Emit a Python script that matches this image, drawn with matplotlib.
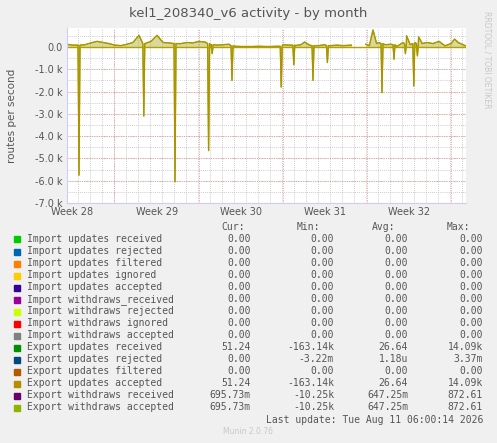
import numpy as np
import matplotlib
matplotlib.use("Agg")
import matplotlib.pyplot as plt
from matplotlib.ticker import FuncFormatter

# ---- data (values in routes/s, x in days from start of plot) ----
base_days_a = [0,0.5,1.5,2,2.5,3,3.5,4,4.5,5,5.5,6,6.5,7,7.5,8,8.5,9.5,10,10.5,11,11.5,12,12.5,13,13.5,14,14.5,15,15.5,16,16.5,17,17.5,18,18.5,19,19.5,19.8,20.2,21,21.5,22,22.5,23,23.7]
base_vals_a = [120,80,100,180,250,200,150,80,60,120,200,520,150,250,520,200,180,150,200,180,250,220,60,80,100,120,30,20,20,20,30,20,20,30,100,80,60,100,220,80,60,100,60,80,60,80]
base_days_b = [24.9,25.2,25.5,25.8,26,26.5,27,27.5,28,28.3,28.6,29,29.3,29.6,30,30.5,31,31.5,32,32.3,32.6,33.2]
base_vals_b = [120,60,760,150,200,100,120,20,200,500,100,200,450,150,200,150,250,50,150,350,200,50]
spike_days = [1.0,6.4,9.0,11.8,12.1,13.75,17.85,18.9,20.5,21.7,26.25,27.25,28.2,28.9,29.2]
spike_vals = [-5750,-3100,-6050,-4650,-300,-1500,-1800,-800,-1500,-700,-2050,-550,-300,-1750,-400]
spike_edge_vals = [80,150,150,150,100,50,30,80,60,60,150,100,150,150,150]
week_labels = ["Week 28","Week 29","Week 30","Week 31","Week 32"]
week_label_days = [0.42,7.5,14.5,21.5,28.5]
week_major_days = [3.9,11,18,25,32]

legend_names = ["Import updates received","Import updates rejected","Import updates filtered",
    "Import updates ignored","Import updates accepted","Import withdraws_received",
    "Import withdraws rejected","Import withdraws ignored","Import withdraws accepted",
    "Export updates received","Export updates rejected","Export updates filtered",
    "Export updates accepted","Export withdraws received","Export withdraws accepted"]
legend_colors = ["#00cc00","#0066b3","#ff8000","#ffcc00","#330099","#990099","#ccff00",
    "#ff0000","#808080","#008f00","#00487d","#b35a00","#b38f00","#6b006b","#8fb300"]
cur = ["0.00"]*9 + ["51.24","0.00","0.00","51.24","695.73m","695.73m"]
mn = ["0.00"]*9 + ["-163.14k","-3.22m","0.00","-163.14k","-10.25k","-10.25k"]
avg = ["0.00"]*9 + ["26.64","1.18u","0.00","26.64","647.25m","647.25m"]
mx = ["0.00"]*9 + ["14.09k","3.37m","0.00","14.09k","872.61","872.61"]

fig = plt.figure(figsize=(4.97, 4.43), dpi=100, facecolor="#f0f0f0")
ax = fig.add_axes([67/497, 1-203/443, 399/497, (203-28)/443])
ax.set_facecolor("white")
ax.set_xlim(0, 33.25)
ax.set_ylim(-7000, 850)

# grid
for d in np.arange(1, 34):
    ax.axvline(d - 0.1, color="#bbbbbb", lw=0.6, ls=(0, (1, 1.5)), zorder=0)
for d in week_major_days:
    ax.axvline(d, color="#ee9999", lw=0.7, ls=(0, (1, 1.5)), zorder=0)
for y in np.arange(-6500, 800, 500):
    ax.axhline(y, color="#bbbbbb", lw=0.6, ls=(0, (1, 1.5)), zorder=0)
for y in np.arange(-7000, 1, 1000):
    ax.axhline(y, color="#ee9999", lw=0.7, ls=(0, (1, 1.5)), zorder=0)

ad = base_days_a + base_days_b
av = base_vals_a + base_vals_b
edge_d, edge_v = [], []
for sd, ev in zip(spike_days, spike_edge_vals):
    edge_d += [sd - 0.08, sd + 0.08]
    edge_v += [ev, ev]
all_d = ad + spike_days + edge_d
all_v = av + spike_vals + edge_v
for lo, hi in [(0, 23.8), (24.8, 33.3)]:
    pts = sorted((x, y) for x, y in zip(all_d, all_v) if lo <= x <= hi)
    xs = [p[0] for p in pts]; ys = [p[1] for p in pts]
    ax.fill_between(xs, ys, 0, color="#a0a010", alpha=0.4, lw=0)
    ax.plot(xs, ys, color="#8fb300", lw=1.0)
    ax.plot(xs, ys, color="#b38f00", lw=0.8)
ax.axhline(0, color="#b3a000", lw=1)

ax.set_yticks(np.arange(-7000, 1, 1000))
ax.yaxis.set_major_formatter(FuncFormatter(lambda v, p: "0.0" if v == 0 else f"{v/1000:.1f} k"))
ax.set_xticks(week_label_days)
ax.set_xticklabels(week_labels)
ax.tick_params(colors="#555555", labelsize=7, length=0, pad=3)
for s in ["top", "right"]:
    ax.spines[s].set_visible(False)
ax.spines["left"].set_color("#ccccff")
ax.spines["bottom"].set_color("#ccccff")
ax.set_ylabel("routes per second", color="#555555", fontsize=7.5)
ax.yaxis.set_label_coords(-0.125, 0.5)

fig.text(0.5, 1-14/443, "kel1_208340_v6 activity - by month", ha="center", va="center",
         color="#555555", fontsize=9.5)
fig.text(487/497, 1-60/443, "RRDTOOL / TOBI OETIKER", rotation=270, ha="center", va="center",
         color="#c8c8c8", fontsize=5.5)

mono = dict(family="DejaVu Sans Mono", fontsize=7, color="#555555", va="center")
fy = lambda y: 1 - y/443
for txt, x in [("Cur:", 245), ("Min:", 320), ("Avg:", 395), ("Max:", 470)]:
    fig.text(x/497, fy(227), txt, ha="right", **mono)
for i, name in enumerate(legend_names):
    y = 239.5 + i*12
    fig.patches.append(plt.Rectangle((14/497, fy(y+3)), 6/497, 6/443, transform=fig.transFigure,
                                      color=legend_colors[i]))
    fig.text(27/497, fy(y), name, ha="left", **mono)
    fig.text(251/497, fy(y), cur[i], ha="right", **mono)
    fig.text(334/497, fy(y), mn[i], ha="right", **mono)
    fig.text(408/497, fy(y), avg[i], ha="right", **mono)
    fig.text(483/497, fy(y), mx[i], ha="right", **mono)
fig.text(483/497, fy(420), "Last update: Tue Aug 11 06:00:14 2026", ha="right", **mono)
fig.text(248/497, fy(432), "Munin 2.0.76", ha="center", va="center", fontsize=5.5, color="#c8c8c8")

fig.savefig("out.png", dpi=100, facecolor=fig.get_facecolor())
